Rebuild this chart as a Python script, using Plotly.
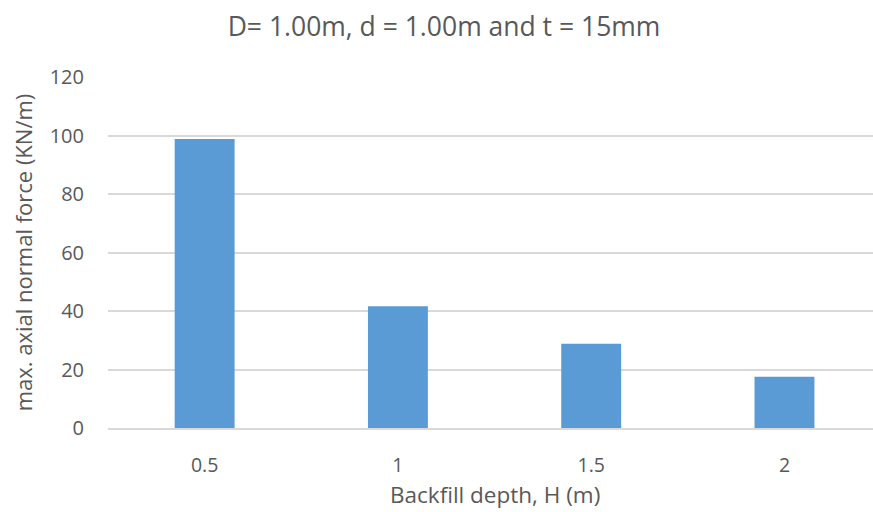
import plotly.graph_objects as go

# Backfill depth categories and the resulting peak axial normal force
depth_labels = ["0.5", "1", "1.5", "2"]
axial_force = [98.8, 41.6, 28.8, 17.5]
y_ticks = [0, 20, 40, 60, 80, 100, 120]

TEXT = "#595959"
GRID = "#D9D9D9"
BAR = "#5B9BD5"
FONT = "Open Sans"

PLOT_TOP, PLOT_BOTTOM = 77, 428.3

fig = go.Figure()
fig.add_trace(go.Bar(
    x=list(range(len(depth_labels))),
    y=axial_force,
    marker=dict(color=BAR, line=dict(width=0)),
    width=0.31,
))

fig.update_layout(
    width=873, height=512,
    margin=dict(l=108, r=0, t=PLOT_TOP, b=512 - PLOT_BOTTOM),
    paper_bgcolor="white", plot_bgcolor="white",
    showlegend=False,
    font=dict(family=FONT, color=TEXT),
    title=dict(
        text="D= 1.00m, d = 1.00m and t = 15mm",
        x=444 / 873, xref="container", xanchor="center",
        y=1 - 27 / 512, yref="container", yanchor="middle",
        font=dict(size=26.5, color=TEXT, family=FONT),
    ),
)

fig.update_xaxes(
    range=[-0.5, 3.458],
    tickmode="array",
    tickvals=list(range(len(depth_labels))),
    ticktext=depth_labels,
    tickfont=dict(size=19.5, color=TEXT),
    ticks="outside", ticklen=19, tickcolor="rgba(0,0,0,0)",
    showgrid=False, showline=True, linecolor=GRID, linewidth=1.5,
    zeroline=False,
)

fig.update_yaxes(
    range=[0, 120],
    tickmode="array",
    tickvals=y_ticks,
    tickfont=dict(size=20, color=TEXT),
    ticks="outside", ticklen=19, tickcolor="rgba(0,0,0,0)",
    showgrid=True, gridcolor=GRID, gridwidth=1.5,
    zeroline=False, showline=False,
    title=dict(text="max. axial normal force (KN/m)",
               font=dict(size=22, color=TEXT), standoff=10),
)

# x-axis title centred under the category span
fig.add_annotation(
    text="Backfill depth, H (m)",
    x=1.5, xref="x",
    y=-(495 - PLOT_BOTTOM) / (PLOT_BOTTOM - PLOT_TOP), yref="paper",
    showarrow=False, font=dict(size=22.5, color=TEXT),
    xanchor="center", yanchor="middle",
)

fig.write_html("out.html")
